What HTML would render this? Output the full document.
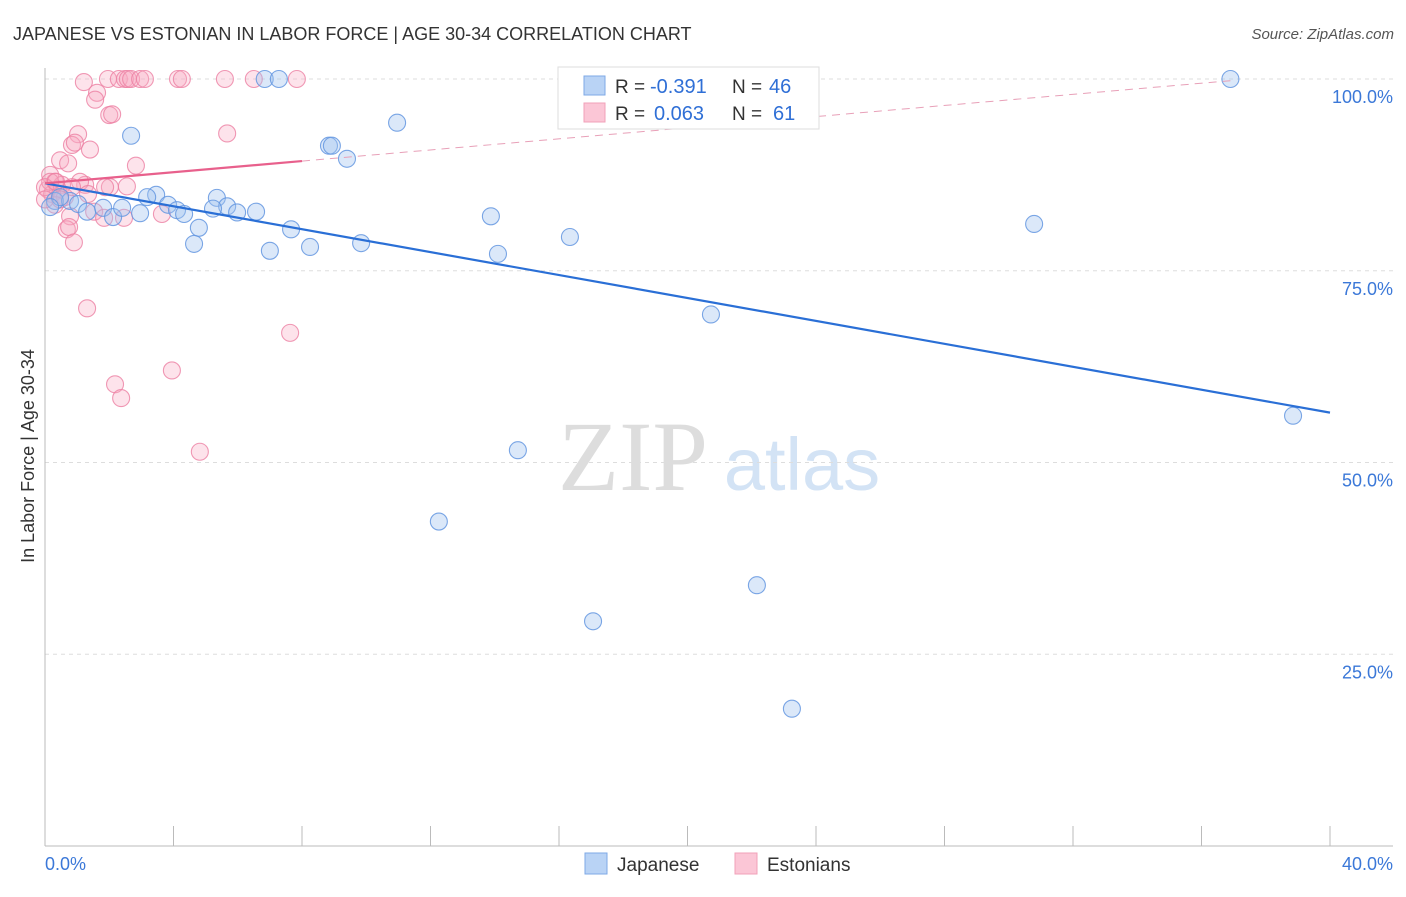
<!DOCTYPE html>
<html><head><meta charset="utf-8"><style>
body{margin:0;background:#fff;font-family:"Liberation Sans",sans-serif;}
svg text{font-family:"Liberation Sans",sans-serif;}
</style></head><body>
<svg id="chart" width="1406" height="892" xmlns="http://www.w3.org/2000/svg">
<text x="13" y="40" font-size="18" fill="#333">JAPANESE VS ESTONIAN IN LABOR FORCE | AGE 30-34 CORRELATION CHART</text>
<text x="1394" y="39" font-size="15" fill="#555" text-anchor="end" font-style="italic">Source: ZipAtlas.com</text>
<g>
<text x="633" y="490" font-size="100" fill="#ddd" text-anchor="middle" style="font-family:'Liberation Serif',serif">ZIP</text>
<text x="802" y="490" font-size="74" fill="#d3e3f5" text-anchor="middle">atlas</text>
</g>
<g id="grid"></g>
<g id="axes"></g>
<g id="marks"></g>
<text transform="translate(34,456) rotate(-90)" font-size="18" fill="#333" text-anchor="middle">In Labor Force | Age 30-34</text>
<g>
<rect x="558" y="67" width="261" height="62" fill="#fff" stroke="#ddd"/>
<rect x="584" y="76" width="21" height="19" fill="#b9d3f5" stroke="#7ea8e6"/>
<rect x="584" y="103" width="21" height="19" fill="#fbc6d6" stroke="#f1a0b8"/>
<text x="615" y="93" font-size="19" fill="#333">R =</text>
<text x="650" y="93" font-size="20" fill="#2f6fd6">-0.391</text>
<text x="732" y="93" font-size="19" fill="#333">N =</text>
<text x="769" y="93" font-size="20" fill="#2f6fd6">46</text>
<text x="615" y="120" font-size="19" fill="#333">R =</text>
<text x="654" y="120" font-size="20" fill="#2f6fd6">0.063</text>
<text x="732" y="120" font-size="19" fill="#333">N =</text>
<text x="773" y="120" font-size="20" fill="#2f6fd6">61</text>
</g>
<g>
<rect x="585" y="853" width="22" height="21" fill="#b9d3f5" stroke="#7ea8e6"/>
<text x="617" y="871" font-size="19" fill="#333">Japanese</text>
<rect x="735" y="853" width="22" height="21" fill="#fbc6d6" stroke="#f1a0b8"/>
<text x="767" y="871" font-size="19" fill="#333">Estonians</text>
</g>
</svg>
<script>
const yTicks=[25,50,75,100];
const yTickLabels=["25.0%","50.0%","75.0%","100.0%"];
const xTicks=[0,4,8,12,16,20,24,28,32,36,40];
const japX=[6.84,7.28,16.5,36.9,2.68,10.96,8.84,8.93,9.4,3.46,3.18,3.83,5.35,5.67,5.98,6.57,13.88,30.79,0.31,0.78,1.03,1.31,1.81,2.12,2.4,2.96,4.11,4.33,5.23,4.79,4.64,7.0,7.66,8.25,9.84,14.1,16.34,20.73,38.85,14.72,12.26,22.16,17.06,23.25,0.47,0.16];
const japY=[100,100,100,100,92.6,94.3,91.3,91.3,89.6,84.9,84.6,83.6,84.5,83.4,82.6,82.7,82.1,81.1,84.1,84.1,83.7,82.7,83.2,82.0,83.2,82.5,82.9,82.4,83.1,80.6,78.5,77.6,80.4,78.1,78.6,77.2,79.4,69.3,56.1,51.6,42.3,34.0,29.3,17.9,84.6,83.3];
const estX=[1.21,1.96,2.3,2.49,2.58,2.68,2.96,3.11,4.14,4.26,5.6,6.5,7.84,1.62,1.56,2.0,2.09,5.67,1.03,0.84,0.93,1.4,0.47,0.72,2.83,0.16,0.31,0.53,1.25,1.09,2.02,2.55,0.4,0.09,0.22,0.62,1.34,3.64,1.53,1.84,2.46,0.78,0.68,0.75,0.9,1.31,7.63,2.18,3.95,2.37,4.82,0.31,0.16,0,0.47,0.84,0,1.87,0.34];
const estY=[99.6,100,100,100,100,100,100,100,100,100,100,100,100,98.2,97.3,95.3,95.4,92.9,92.8,91.4,91.7,90.8,89.4,89.0,88.7,87.5,86.6,86.2,86.2,86.6,85.9,86.0,85.6,85.6,85.0,84.6,85.0,82.4,82.7,81.9,81.9,82.1,80.4,80.7,78.7,70.1,66.9,60.2,62.0,58.4,51.4,83.6,86.6,85.9,84.3,85.9,84.3,85.9,86.6];
const japTrend=[86.4,56.5];
const estTrend=[86.4,89.3];
const estTrendEnd=[8,36.9];
const X=v=>45+v*32.125, Y=v=>846-v*7.67;
const NS="http://www.w3.org/2000/svg";
function mk(tag,attrs,parent){const e=document.createElementNS(NS,tag);for(const k in attrs)e.setAttribute(k,attrs[k]);parent.appendChild(e);return e;}
const grid=document.getElementById('grid'),axes=document.getElementById('axes'),marks=document.getElementById('marks');
yTicks.forEach((t,i)=>{
 const l=mk('line',{x1:45,x2:1393,y1:Y(t),y2:Y(t),stroke:'#ddd','stroke-dasharray':'4,4'},grid);
 
 
 const tx=mk('text',{x:1393,y:Y(t)+24,'font-size':18,fill:'#3b78d8','text-anchor':'end'},axes);
 tx.textContent=yTickLabels[i];
 
 
});
const ax=mk('line',{x1:45,x2:45,y1:68,y2:846,stroke:'#bbb'},axes);


const bx=mk('line',{x1:45,x2:1393,y1:846,y2:846,stroke:'#bbb'},axes);


xTicks.forEach(t=>{const l=mk('line',{x1:X(t),x2:X(t),y1:826,y2:846,stroke:'#bbb'},axes);
 
 });
const xl=mk('text',{x:45,y:870,'font-size':18,fill:'#3b78d8'},axes);xl.textContent='0.0%';


const xr=mk('text',{x:1393,y:870,'font-size':18,fill:'#3b78d8','text-anchor':'end'},axes);xr.textContent='40.0%';


estX.forEach((v,i)=>{const c=mk('circle',{cx:X(v),cy:Y(estY[i]),r:8.5,fill:'rgba(248,170,195,0.33)',stroke:'rgba(236,128,163,0.8)','stroke-width':1.1},marks);
 
 });
japX.forEach((v,i)=>{const c=mk('circle',{cx:X(v),cy:Y(japY[i]),r:8.5,fill:'rgba(160,195,240,0.38)',stroke:'rgba(100,150,224,0.85)','stroke-width':1.1},marks);
 
 });
const jt=mk('line',{x1:X(0),y1:Y(japTrend[0]),x2:X(40),y2:Y(japTrend[1]),stroke:'#2a6fd6','stroke-width':2.2},marks);


const slope=(estTrend[1]-estTrend[0])/estTrendEnd[0];
const et=mk('line',{x1:X(0),y1:Y(estTrend[0]),x2:X(estTrendEnd[0]),y2:Y(estTrend[1]),stroke:'#e8608c','stroke-width':2.2},marks);


const ed=mk('line',{x1:X(estTrendEnd[0]),y1:Y(estTrend[1]),x2:X(estTrendEnd[1]),y2:Y(estTrend[0]+slope*estTrendEnd[1]),stroke:'#e8a0b8','stroke-width':1,'stroke-dasharray':'8,6'},marks);


</script>
</body></html>
